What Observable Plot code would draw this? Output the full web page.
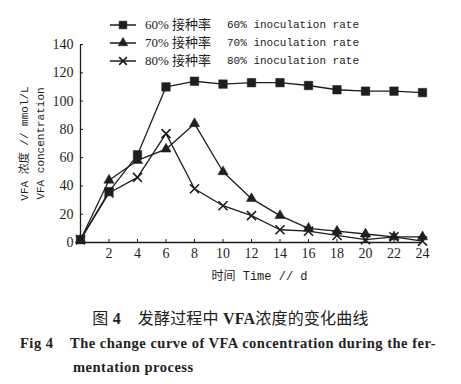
<!DOCTYPE html>
<html>
<head>
<meta charset="utf-8">
<script src="https://cdn.jsdelivr.net/npm/d3@7"></script>
<script src="https://cdn.jsdelivr.net/npm/@observablehq/plot@0.6"></script>
<style>
  body { margin: 0; background: #fff; }
  #wrap { position: relative; width: 461px; height: 384px; overflow: hidden; font-family: "Liberation Serif", "Noto Sans CJK SC", serif; color: #222; }
  #chart { position: absolute; left: 0; top: 0; }
  #legend { position: absolute; left: 108px; top: 16px; }
  .row { height: 18px; position: relative; white-space: nowrap; }
  .row svg { position: absolute; left: 0; top: 2px; }
  .zh { position: absolute; left: 37px; top: 0; font-family: "Liberation Serif", "Noto Sans CJK SC", serif; font-size: 13px; line-height: 18px; }
  .en { position: absolute; left: 119px; top: 0; font-family: "Liberation Mono", monospace; font-size: 11px; line-height: 18px; }
  .cap { position: absolute; white-space: nowrap; }
  #cap1 { left: 0; width: 461px; text-align: center; top: 305px; font-size: 16px; letter-spacing: 0.2px; }
  #cap2 { left: 20px; top: 335px; font-size: 14.5px; font-weight: bold; letter-spacing: 0.5px; }
  #cap3 { left: 73px; top: 359px; font-size: 14.5px; font-weight: bold; letter-spacing: 0.5px; }
</style>
</head>
<body>
<div id="wrap">
  <div id="chart"></div>
  <div id="legend"></div>
  <div class="cap" id="cap1">图 <b>4</b>&nbsp;&nbsp;&nbsp;&nbsp;发酵过程中 <b>VFA</b>浓度的变化曲线</div>
  <div class="cap" id="cap2">Fig 4&nbsp;&nbsp;&nbsp;&nbsp;The change curve of VFA concentration during the fer-</div>
  <div class="cap" id="cap3">mentation process</div>
</div>
<script>
const days = [0, 2, 4, 6, 8, 10, 12, 14, 16, 18, 20, 22, 24];
const rate60 = [2, 36, 62, 110, 114, 112, 113, 113, 111, 108, 107, 107, 106];
const rate70 = [2, 44, 58, 66, 84, 50, 31, 19, 10, 8, 6, 4, 4];
const rate80 = [2, 35, 46, 77, 38, 26, 19, 9, 8, 5, 2, 4, 1];
const seriesNames = ["60%", "70%", "80%"];
const seriesZh = ["60% 接种率", "70% 接种率", "80% 接种率"];
const seriesEn = ["60% inoculation rate", "70% inoculation rate", "80% inoculation rate"];
const seriesSymbols = ["square", "triangle", "times"];
const xTicks = [2, 4, 6, 8, 10, 12, 14, 16, 18, 20, 22, 24];
const yTicks = [0, 20, 40, 60, 80, 100, 120, 140];
const xLabel = "时间 Time // d";
const yLabel1 = "VFA 浓度 // mmol/L";
const yLabel2 = "VFA concentration";

const values = [rate60, rate70, rate80];
const data = seriesNames.flatMap((s, i) => days.map((d, j) => ({series: s, day: d, value: values[i][j], symbol: seriesSymbols[i]})));

const ink = "#1e1e1e";
const symbolR = {square: 4.8, triangle: 3.8, times: 4.2};
const chart = Plot.plot({
  width: 461,
  height: 290,
  marginLeft: 80,
  marginRight: 39,
  marginTop: 44,
  marginBottom: 48,
  style: {fontFamily: '"Liberation Serif", "Noto Sans CJK SC", serif', fontSize: "13px", color: ink, background: "transparent"},
  x: {domain: [0, 24]},
  y: {domain: [0, 140]},
  symbol: {domain: seriesSymbols, range: seriesSymbols},
  r: {type: "identity"},
  marks: [
    Plot.ruleX([0], {stroke: ink, strokeWidth: 1.3}),
    Plot.ruleY([0], {stroke: ink, strokeWidth: 1.3}),
    Plot.axisY({ticks: yTicks, tickSize: 3, dx: 3, text: null, label: null, stroke: ink}),
    Plot.axisY({ticks: yTicks, tickSize: 0, tickPadding: 7, label: null, fontSize: 14, fill: ink}),
    Plot.axisX({ticks: xTicks, tickSize: 3, dy: -3, text: null, label: null, stroke: ink}),
    Plot.axisX({ticks: xTicks, tickSize: 0, tickPadding: 6, label: null, fontSize: 14, fill: ink}),
    Plot.line(data, {x: "day", y: "value", z: "series", stroke: ink, strokeWidth: 1.3}),
    Plot.dot(data, {x: "day", y: "value", symbol: "symbol", r: d => symbolR[d.symbol], fill: d => d.symbol === "times" ? "none" : ink, stroke: ink, strokeWidth: d => d.symbol === "times" ? 1.6 : 0.5}),
    Plot.text([xLabel], {frameAnchor: "bottom", dx: 8, dy: 37, fontSize: 12, fill: ink, fontFamily: '"Liberation Mono", "Noto Sans CJK SC", monospace'}),
    Plot.text([yLabel1 + "\n" + yLabel2], {frameAnchor: "left", textAnchor: "middle", dx: -50, rotate: -90, fontSize: 11, lineHeight: 1.45, fill: ink, fontFamily: '"Liberation Mono", "Noto Sans CJK SC", monospace'})
  ]
});
document.getElementById("chart").appendChild(chart);

const legend = document.getElementById("legend");
seriesNames.forEach((s, i) => {
  const row = document.createElement("div");
  row.className = "row";
  const t = seriesSymbols[i];
  const sym = d3.symbol().type(t === "square" ? d3.symbolSquare : t === "triangle" ? d3.symbolTriangle : d3.symbolTimes).size(t === "times" ? 40 : t === "triangle" ? 40 : 60)();
  row.innerHTML = `<svg width="30" height="14"><line x1="2" x2="28" y1="7" y2="7" stroke="${ink}" stroke-width="1.5"/><path d="${sym}" transform="translate(15,7)" fill="${t === "times" ? "none" : ink}" stroke="${ink}" stroke-width="${t === "times" ? 1.6 : 0.5}"/></svg><span class="zh">${seriesZh[i]}</span><span class="en">${seriesEn[i]}</span>`;
  legend.appendChild(row);
});
</script>
</body>
</html>
